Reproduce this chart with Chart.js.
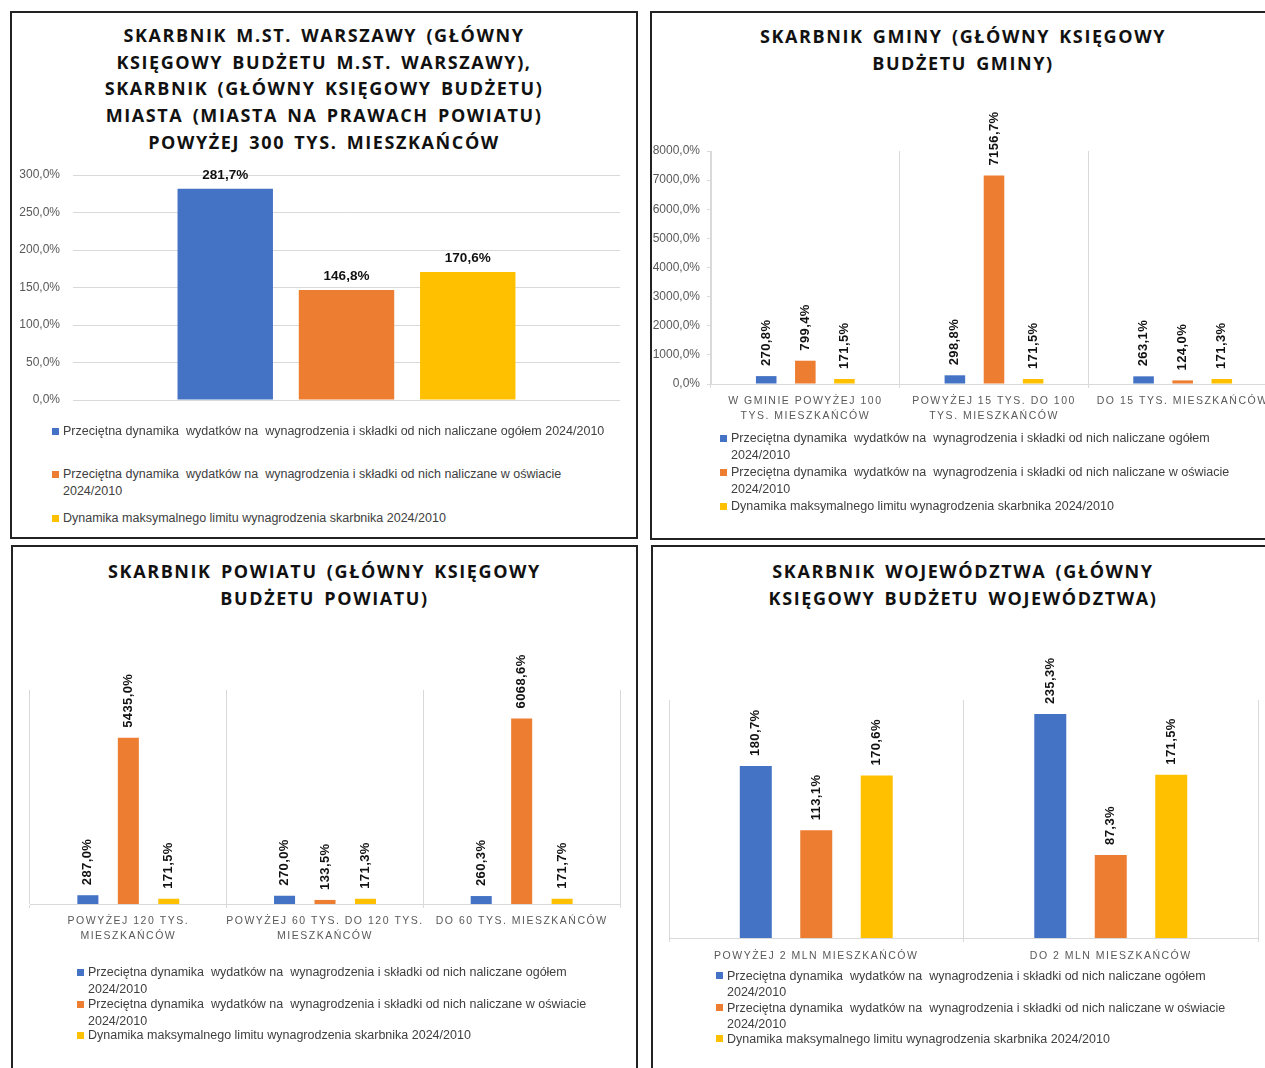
<!DOCTYPE html>
<html lang="pl">
<head>
<meta charset="utf-8">
<title>Dynamika wynagrodzeń skarbników 2024/2010</title>
<script src="https://cdn.jsdelivr.net/npm/chart.js@4.4.1/dist/chart.umd.min.js"></script>
<style>
  html, body { margin: 0; padding: 0; background: #fff; }
  body { width: 1265px; height: 1068px; overflow: hidden; position: relative;
         font-family: 'Liberation Sans', Arial, sans-serif; }
  .panel { position: absolute; box-sizing: border-box; border: 2px solid #222; background: #fff; }
  .title { position: absolute; text-align: center; font-family: 'Open Sans', sans-serif;
           font-weight: 700; font-size: 18px; letter-spacing: 1.6px; word-spacing: 3px;
           line-height: 26.7px; color: #111; white-space: nowrap; }
  canvas { position: absolute; }
  .legend-item { position: absolute; font-size: 12.5px; color: #404040; white-space: pre-wrap; }
  .legend-item .sw { position: absolute; width: 7px; height: 7px; }
  .legend-item .txt { position: absolute; }
</style>
</head>
<body>

<div class="panel" style="left:10px;top:11px;width:628px;height:528px"></div>
<div class="panel" style="left:650px;top:11px;width:632px;height:529px"></div>
<div class="panel" style="left:11px;top:545px;width:627px;height:540px"></div>
<div class="panel" style="left:651px;top:545px;width:632px;height:540px"></div>

<div class="title" id="t1"></div>
<div class="title" id="t2"></div>
<div class="title" id="t3"></div>
<div class="title" id="t4"></div>

<canvas id="c1"></canvas>
<canvas id="c2"></canvas>
<canvas id="c3"></canvas>
<canvas id="c4"></canvas>

<div id="legends"></div>

<script>
// ---- series shared by all four charts ----
const seriesNames = [
  'Przeciętna dynamika  wydatków na  wynagrodzenia i składki od nich naliczane ogółem 2024/2010',
  'Przeciętna dynamika  wydatków na  wynagrodzenia i składki od nich naliczane w oświacie 2024/2010',
  'Dynamika maksymalnego limitu wynagrodzenia skarbnika 2024/2010'
];
const seriesColors = ['#4472C4', '#ED7D31', '#FFC000'];

// ---- Warszawa / miasta na prawach powiatu > 300 tys. ----
const warszawaTitle = [
  'SKARBNIK M.ST. WARSZAWY (GŁÓWNY',
  'KSIĘGOWY BUDŻETU M.ST. WARSZAWY),',
  'SKARBNIK (GŁÓWNY KSIĘGOWY BUDŻETU)',
  'MIASTA (MIASTA NA PRAWACH POWIATU)',
  'POWYŻEJ 300 TYS. MIESZKAŃCÓW'
];
const warszawaCategories = [''];
const warszawaOgolem = [281.7];
const warszawaOswiata = [146.8];
const warszawaLimit = [170.6];
const warszawaAxis = [0, 300, 50];

// ---- gminy ----
const gminaTitle = ['SKARBNIK GMINY (GŁÓWNY KSIĘGOWY', 'BUDŻETU GMINY)'];
const gminaCategories = [
  ['W GMINIE POWYŻEJ 100', 'TYS. MIESZKAŃCÓW'],
  ['POWYŻEJ 15 TYS. DO 100', 'TYS. MIESZKAŃCÓW'],
  'DO 15 TYS. MIESZKAŃCÓW'
];
const gminaOgolem = [270.8, 298.8, 263.1];
const gminaOswiata = [799.4, 7156.7, 124.0];
const gminaLimit = [171.5, 171.5, 171.3];
const gminaAxis = [0, 8000, 1000];

// ---- powiaty ----
const powiatTitle = ['SKARBNIK POWIATU (GŁÓWNY KSIĘGOWY', 'BUDŻETU POWIATU)'];
const powiatCategories = [
  ['POWYŻEJ 120 TYS.', 'MIESZKAŃCÓW'],
  ['POWYŻEJ 60 TYS. DO 120 TYS.', 'MIESZKAŃCÓW'],
  'DO 60 TYS. MIESZKAŃCÓW'
];
const powiatOgolem = [287.0, 270.0, 260.3];
const powiatOswiata = [5435.0, 133.5, 6068.6];
const powiatLimit = [171.5, 171.3, 171.7];
const powiatAxis = [0, 7000, 1000];

// ---- województwa ----
const wojTitle = ['SKARBNIK WOJEWÓDZTWA (GŁÓWNY', 'KSIĘGOWY BUDŻETU WOJEWÓDZTWA)'];
const wojCategories = ['POWYŻEJ 2 MLN MIESZKAŃCÓW', 'DO 2 MLN MIESZKAŃCÓW'];
const wojOgolem = [180.7, 235.3];
const wojOswiata = [113.1, 87.3];
const wojLimit = [170.6, 171.5];
const wojAxis = [0, 250, 50];

// ---- helpers ----
const pct = v => Number(v).toFixed(1).replace('.', ',') + '%';
const GRID = '#d9d9d9';
const TICK = '#595959';
Chart.defaults.font.family = "'Liberation Sans', Arial, sans-serif";
Chart.defaults.color = TICK;

// value labels above each bar (horizontal or rotated)
const valueLabels = {
  id: 'valueLabels',
  afterDatasetsDraw(chart, args, opts) {
    const ctx = chart.ctx;
    ctx.save();
    ctx.letterSpacing = opts.spacing || '0px';
    ctx.font = "bold " + opts.size + "px 'Liberation Sans', Arial, sans-serif";
    ctx.fillStyle = '#111';
    chart.data.datasets.forEach((ds, i) => {
      chart.getDatasetMeta(i).data.forEach((bar, j) => {
        const text = pct(ds.data[j]);
        if (opts.rotate) {
          ctx.save();
          ctx.translate(bar.x, bar.y - opts.gap);
          ctx.rotate(-Math.PI / 2);
          ctx.textAlign = 'left';
          ctx.textBaseline = 'middle';
          ctx.fillText(text, 0, 0);
          ctx.restore();
        } else {
          ctx.textAlign = 'center';
          ctx.textBaseline = 'alphabetic';
          ctx.fillText(text, bar.x, bar.y - opts.gap);
        }
      });
    });
    ctx.restore();
  }
};

// spaced-out category captions on the x axis
const captionSpacing = {
  id: 'captionSpacing',
  beforeDraw(chart, args, opts) { chart.ctx.letterSpacing = opts.spacing || '0px'; },
  beforeDatasetsDraw(chart) { chart.ctx.letterSpacing = '0px'; }
};

function makeDatasets(values, catPct, barPct) {
  return values.map((data, i) => ({
    label: seriesNames[i],
    data: data,
    backgroundColor: seriesColors[i],
    borderWidth: 0,
    categoryPercentage: catPct,
    barPercentage: barPct
  }));
}

// box: canvas rectangle on the page, area: wanted plot area on the page.
// Both axes reserve their fixed size through afterFit, so the layout
// padding only covers the top and right margins.
function drawPanel(id, box, area, categories, values, axis, o) {
  const cv = document.getElementById(id);
  cv.width = box.w; cv.height = box.h;
  cv.style.left = box.x + 'px'; cv.style.top = box.y + 'px';
  const yWidth = area.left - box.x;
  const xHeight = (box.y + box.h) - area.bottom;

  const yScale = {
    min: axis[0], max: axis[1],
    display: o.yLabels || o.yGrid,
    afterFit: s => { s.width = yWidth; },
    ticks: {
      display: o.yLabels,
      stepSize: axis[2],
      callback: v => pct(v),
      font: { size: 12 },
      color: TICK,
      padding: o.yPad,
      z: 1
    },
    grid: {
      display: true,
      color: GRID,
      drawOnChartArea: !!o.yGrid,
      drawTicks: !!o.yTickMarks,
      tickLength: 4
    },
    border: { display: !!o.yBorder, color: GRID }
  };

  const xScale = {
    display: true,
    afterFit: s => { s.height = xHeight; },
    ticks: {
      display: o.xLabels,
      autoSkip: false, maxRotation: 0, minRotation: 0,
      font: { size: 10.5, lineHeight: 1.43 },
      color: TICK,
      padding: o.xPad
    },
    grid: { display: o.xLabels, offset: true, color: GRID, drawTicks: true, tickLength: 4 },
    border: { display: o.xLabels, color: GRID }
  };

  return new Chart(cv, {
    type: 'bar',
    data: { labels: categories, datasets: makeDatasets(values, o.catPct, o.barPct) },
    options: {
      responsive: false,
      animation: false,
      layout: {
        padding: {
          left: 0,
          right: (box.x + box.w) - area.right,
          top: area.top - box.y,
          bottom: 0
        }
      },
      scales: { x: xScale, y: yScale },
      plugins: {
        legend: { display: false },
        tooltip: { enabled: false },
        valueLabels: { rotate: o.rotate, gap: o.gap, size: o.labelSize, spacing: o.rotate ? '0.4px' : '0px' },
        captionSpacing: { spacing: '1.5px' }
      }
    },
    plugins: [valueLabels, captionSpacing]
  });
}

// ---- titles ----
function setTitle(id, lines, left, width, top) {
  const el = document.getElementById(id);
  el.style.left = left + 'px'; el.style.width = width + 'px'; el.style.top = top + 'px';
  el.innerHTML = '';
  lines.forEach((line, i) => {
    if (i) el.appendChild(document.createElement('br'));
    el.appendChild(document.createTextNode(line));
  });
}
setTitle('t1', warszawaTitle, 10, 628, 22);
setTitle('t2', gminaTitle, 650, 626, 23);
setTitle('t3', powiatTitle, 11, 627, 558);
setTitle('t4', wojTitle, 651, 624, 558);

// ---- legends ----
function addLegend(markerX, textX, tops, width, lineHeight) {
  const host = document.getElementById('legends');
  seriesNames.forEach((name, i) => {
    const item = document.createElement('div');
    item.className = 'legend-item';
    item.style.left = markerX + 'px';
    item.style.top = tops[i] + 'px';
    item.style.lineHeight = lineHeight + 'px';
    const sw = document.createElement('span');
    sw.className = 'sw';
    sw.style.background = seriesColors[i];
    sw.style.left = '0px';
    sw.style.top = ((lineHeight - 7) / 2) + 'px';
    const txt = document.createElement('span');
    txt.className = 'txt';
    txt.style.left = (textX - markerX) + 'px';
    txt.style.width = width + 'px';
    txt.textContent = name;
    item.appendChild(sw);
    item.appendChild(txt);
    host.appendChild(item);
  });
}
addLegend(52, 63, [422.5, 465.5, 509.5], 546, 17);
addLegend(720, 731, [429.5, 463.5, 497.5], 515, 17);
addLegend(77, 88, [963.5, 995.5, 1026.5], 515, 17);
addLegend(716, 727, [967.5, 999.5, 1030.5], 515, 16.5);

// ---- charts ----
drawPanel('c1',
  { x: 14, y: 150, w: 620, h: 280 },
  { left: 73, right: 620, top: 175, bottom: 400 },
  warszawaCategories, [warszawaOgolem, warszawaOswiata, warszawaLimit], warszawaAxis,
  { yLabels: true, yGrid: true, yTickMarks: false, yBorder: false, yPad: 13,
    xLabels: false, xPad: 0, catPct: 0.665, barPct: 0.787, rotate: false, gap: 10, labelSize: 13.5 });

drawPanel('c2',
  { x: 652, y: 90, w: 640, h: 345 },
  { left: 711, right: 1277, top: 151, bottom: 384 },
  gminaCategories, [gminaOgolem, gminaOswiata, gminaLimit], gminaAxis,
  { yLabels: true, yGrid: false, yTickMarks: true, yBorder: true, yPad: 7,
    xLabels: true, xPad: 6, catPct: 0.622, barPct: 0.526, rotate: true, gap: 10, labelSize: 13 });

drawPanel('c3',
  { x: 13, y: 620, w: 622, h: 330 },
  { left: 30, right: 620, top: 690, bottom: 904 },
  powiatCategories, [powiatOgolem, powiatOswiata, powiatLimit], powiatAxis,
  { yLabels: false, yGrid: false, yTickMarks: false, yBorder: false, yPad: 0,
    xLabels: true, xPad: 6, catPct: 0.617, barPct: 0.52, rotate: true, gap: 10, labelSize: 13 });

drawPanel('c4',
  { x: 653, y: 630, w: 630, h: 350 },
  { left: 669, right: 1258, top: 700, bottom: 938 },
  wojCategories, [wojOgolem, wojOswiata, wojLimit], wojAxis,
  { yLabels: false, yGrid: false, yTickMarks: false, yBorder: false, yPad: 0,
    xLabels: true, xPad: 7, catPct: 0.616, barPct: 0.529, rotate: true, gap: 10, labelSize: 13 });
</script>
</body>
</html>
